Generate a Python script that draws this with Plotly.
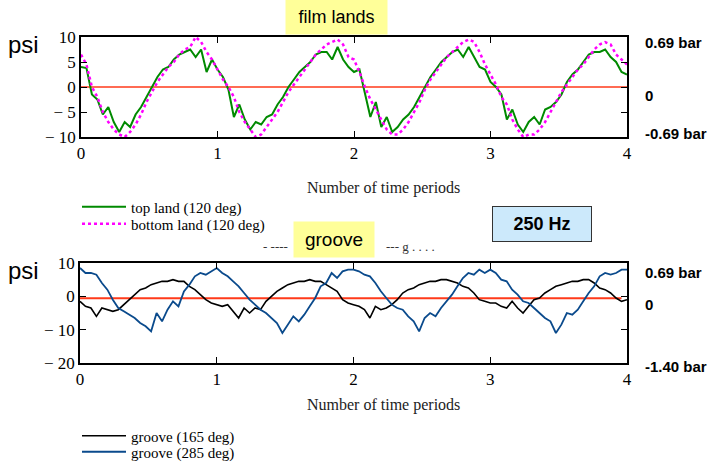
import plotly.graph_objects as go

W, H = 711, 464
SERIF = "Liberation Serif"
SANS = "Liberation Sans"

# time axis: 4 periods sampled every 0.04 period
T0, DT = 0.0, 0.04

# film lands, psi
top_land = [4.0, 3.8, -1.5, -2.5, -5.5, -4.0, -7.0, -9.0, -7.0, -8.0,
            -5.5, -4.0, -2.0, 0.0, 2.0, 3.5, 4.0, 5.5, 6.5, 7.0,
            7.5, 6.0, 7.5, 3.0, 5.5, 3.5, 2.0, -0.5, -6.0, -3.5,
            -6.5, -8.5, -7.0, -7.5, -6.0, -5.5, -3.5, -2.0, 0.0, 1.5,
            3.0, 4.0, 5.0, 6.5, 7.0, 7.0, 5.5, 8.0, 5.5, 4.0,
            3.0, 3.5, -1.0, -6.0, -3.0, -8.0, -6.0, -9.0, -8.0, -6.5,
            -5.5, -4.0, -2.0, 0.0, 2.0, 3.5, 5.0, 6.0, 7.0, 7.5,
            6.0, 8.0, 6.0, 4.0, 3.5, 1.0, 0.0, -1.5, -6.5, -4.5,
            -7.5, -9.0, -7.0, -6.0, -7.5, -4.5, -4.0, -3.0, -1.5, 1.0,
            2.5, 3.5, 5.0, 6.5, 7.0, 7.0, 7.5, 6.0, 5.0, 3.0,
            2.5]
bottom_land = [6.5, 4.5, 0.0, -2.0, -5.0, -7.0, -8.5, -9.5, -10.0, -9.0,
               -7.5, -5.5, -3.0, -1.0, 1.0, 2.5, 4.0, 5.0, 6.5, 7.5,
               8.0, 10.0, 9.0, 7.0, 5.5, 3.5, 1.5, 0.0, -2.0, -5.0,
               -7.0, -8.5, -10.0, -9.5, -8.0, -6.5, -5.0, -3.0, -1.0, 0.5,
               2.0, 3.5, 5.0, 6.5, 7.5, 8.5, 9.0, 9.5, 8.5, 6.0,
               5.5, 3.0, 0.0, -2.5, -4.5, -6.5, -8.5, -9.5, -9.5, -8.5,
               -7.0, -5.0, -3.0, -0.5, 1.5, 3.0, 4.5, 6.0, 7.0, 8.0,
               9.0, 9.5, 9.0, 7.0, 4.5, 2.5, 0.5, -2.0, -3.5, -6.5,
               -8.5, -10.0, -9.5, -9.5, -8.5, -7.0, -5.0, -3.0, -1.0, 0.5,
               2.0, 3.5, 4.5, 6.0, 7.5, 8.5, 9.0, 8.5, 6.5, 5.5,
               4.5]

# groove, psi
groove_165 = [-1.5, -3.0, -3.5, -6.0, -3.5, -4.0, -4.5, -4.0, -2.5, -1.0,
              0.5, 2.0, 2.5, 3.5, 4.0, 4.5, 4.5, 5.0, 4.5, 4.5,
              3.0, 2.0, 0.5, -1.0, -2.0, -2.5, -3.0, -2.5, -4.5, -6.5,
              -3.5, -5.0, -3.5, -4.0, -1.5, 0.0, 1.5, 2.5, 3.5, 4.0,
              4.5, 4.5, 5.0, 4.5, 4.5, 3.5, 2.5, 1.5, -1.0, -2.0,
              -2.5, -3.0, -4.0, -6.5, -3.0, -4.0, -3.5, -2.5, -1.0, 1.0,
              2.0, 2.5, 3.5, 4.0, 4.5, 4.5, 5.0, 5.0, 4.5, 4.0,
              3.0, 2.5, 1.0, -1.0, -1.5, -2.0, -2.0, -3.0, -3.5, -1.5,
              -3.5, -5.0, -3.0, -1.0, -0.5, 1.0, 2.0, 3.0, 3.5, 4.0,
              4.5, 4.5, 5.0, 5.0, 4.0, 2.5, 2.0, 1.0, -0.5, -1.5,
              -1.0]
groove_285 = [8.5, 7.0, 7.0, 6.5, 4.0, 2.0, -1.0, -3.5, -4.5, -5.5,
              -6.5, -8.0, -9.0, -10.5, -5.0, -7.5, -4.0, -1.5, -3.0, 1.5,
              3.5, 6.0, 7.0, 6.5, 7.5, 8.5, 7.0, 6.0, 4.5, 3.0,
              1.0, -1.0, -2.5, -4.0, -5.0, -6.5, -8.0, -11.0, -8.5, -6.0,
              -7.5, -5.5, -3.0, -0.5, 3.0, 4.0, 7.0, 5.5, 7.5, 8.0,
              8.0, 7.5, 6.5, 6.0, 4.0, 1.5, -0.5, -2.5, -3.5, -4.0,
              -6.0, -7.5, -10.5, -6.5, -5.0, -6.0, -3.5, -1.5, 0.5, 3.0,
              5.5, 7.0, 6.5, 8.0, 7.0, 8.0, 7.0, 5.0, 4.5, 2.0,
              0.5, -1.5, -2.0, -3.5, -5.0, -6.5, -7.5, -11.0, -8.5, -5.0,
              -5.5, -4.0, -1.5, 1.0, 3.0, 6.0, 7.0, 6.5, 7.0, 8.0,
              8.0]

ref_top = 0.0
ref_groove = -0.6

x_ticks = [0, 1, 2, 3, 4]
top_yticks = [10, 5, 0, -5, -10]
top_ytext = ["10", "5", "0", "\u2212 5", "\u2212 10"]
bot_yticks = [10, 0, -10, -20]
bot_ytext = ["10", "0", "\u2212 10", "\u2212 20"]

top_bar = ["0.69 bar", "0", "-0.69 bar"]
bot_bar = ["0.69 bar", "0", "-1.40 bar"]


def px(x):
    return x / W


def py(y):
    return 1 - y / H


fig = go.Figure()

fig.add_trace(go.Scatter(y=top_land, x0=T0, dx=DT, mode="lines",
                         name="top land (120 deg)",
                         line=dict(color="#008a00", width=2),
                         xaxis="x", yaxis="y", legend="legend"))
fig.add_trace(go.Scatter(y=bottom_land, x0=T0, dx=DT, mode="lines",
                         name="bottom land (120 deg)",
                         line=dict(color="#ff00ff", width=2.5, dash="dot"),
                         xaxis="x", yaxis="y", legend="legend2"))
fig.add_trace(go.Scatter(y=groove_165, x0=T0, dx=DT, mode="lines",
                         name="groove (165 deg)",
                         line=dict(color="black", width=1.6),
                         xaxis="x2", yaxis="y2", legend="legend3"))
fig.add_trace(go.Scatter(y=groove_285, x0=T0, dx=DT, mode="lines",
                         name="groove (285 deg)",
                         line=dict(color="#0a4a8c", width=1.8),
                         xaxis="x2", yaxis="y2", legend="legend4"))

# reference lines
fig.add_shape(type="line", xref="x", yref="y", x0=0, x1=4,
              y0=ref_top, y1=ref_top, line=dict(color="#ff3a1a", width=1.5),
              layer="below")
fig.add_shape(type="line", xref="x2", yref="y2", x0=0, x1=3.96,
              y0=ref_groove, y1=ref_groove,
              line=dict(color="#ff3a1a", width=2), layer="below")

axis_common = dict(showline=True, linecolor="black", linewidth=1.5,
                   mirror="ticks", ticks="inside", ticklen=6,
                   tickcolor="black", showgrid=False, zeroline=False,
                   automargin=False,
                   tickfont=dict(family=SERIF, size=17, color="black"))


def legend_at(y):
    return dict(x=px(77), y=py(y), xanchor="left", yanchor="middle",
                bgcolor="rgba(0,0,0,0)", borderwidth=0, itemwidth=44,
                font=dict(family=SERIF, size=15, color="black"))


fig.update_layout(
    width=W, height=H, autosize=False,
    margin=dict(l=0, r=0, t=0, b=0, autoexpand=False),
    paper_bgcolor="white", plot_bgcolor="white",
    font=dict(family=SANS, color="black"),
    xaxis=dict(domain=[px(81), px(627)], range=[0, 4], anchor="y",
               tickvals=x_ticks, **axis_common),
    yaxis=dict(domain=[py(137), py(37)], range=[-10, 10], anchor="x",
               tickvals=top_yticks, ticktext=top_ytext, **axis_common),
    xaxis2=dict(domain=[px(80), px(627)], range=[0, 4], anchor="y2",
                tickvals=x_ticks, **axis_common),
    yaxis2=dict(domain=[py(363), py(263)], range=[-20, 10], anchor="x2",
                tickvals=bot_yticks, ticktext=bot_ytext, **axis_common),
    legend=legend_at(207),
    legend2=legend_at(224),
    legend3=legend_at(436),
    legend4=legend_at(452),
    showlegend=True,
)

ann = []
# psi labels
for yy in (45, 270):
    ann.append(dict(text="psi", x=px(6), y=py(yy), xanchor="left",
                    yanchor="middle",
                    font=dict(family=SANS, size=24, color="black")))
# right-hand bar labels
for txt, yy in zip(top_bar, (42, 95, 133)):
    ann.append(dict(text="<b>%s</b>" % txt, x=px(643), y=py(yy),
                    xanchor="left", yanchor="middle",
                    font=dict(family=SANS, size=15, color="black")))
for txt, yy in zip(bot_bar, (272, 304, 366)):
    ann.append(dict(text="<b>%s</b>" % txt, x=px(643), y=py(yy),
                    xanchor="left", yanchor="middle",
                    font=dict(family=SANS, size=15, color="black")))
# axis titles
for yy in (188, 405):
    ann.append(dict(text="Number of time periods", x=px(383), y=py(yy),
                    xanchor="center", yanchor="middle",
                    font=dict(family=SERIF, size=16, color="#222")))
# half-hidden old title behind the groove box
ann.append(dict(text="- ----", x=px(275), y=py(246), xanchor="center",
                yanchor="middle", font=dict(family=SERIF, size=13, color="#333")))
ann.append(dict(text="--- g . . . .", x=px(410), y=py(246), xanchor="center",
                yanchor="middle", font=dict(family=SERIF, size=13, color="#333")))
# label boxes
ann.append(dict(text="film lands", x=px(336.5), y=py(16.5), xanchor="center",
                yanchor="middle", width=99, height=33, bgcolor="#ffff99",
                font=dict(family=SANS, size=18, color="black")))
ann.append(dict(text="groove", x=px(334), y=py(239), xanchor="center",
                yanchor="middle", width=78, height=33, bgcolor="#ffff99",
                font=dict(family=SANS, size=19, color="black")))
ann.append(dict(text="<b>250 Hz</b>", x=px(542), y=py(224), xanchor="center",
                yanchor="middle", width=96, height=32, bgcolor="#cce9fb",
                bordercolor="#333333", borderwidth=1,
                font=dict(family=SANS, size=18, color="black")))

for a in ann:
    a.update(xref="paper", yref="paper", showarrow=False)
fig.update_layout(annotations=ann)

# the page's default body margin would push the figure 8px down/right
fig.write_html("out.html", config={"displayModeBar": False},
               post_script="document.body.style.margin='0';")
